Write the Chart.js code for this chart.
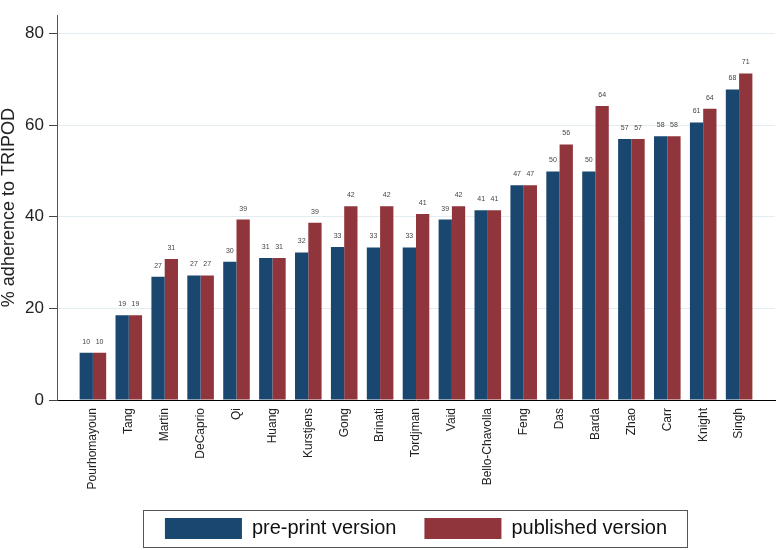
<!DOCTYPE html>
<html>
<head>
<meta charset="utf-8">
<script src="https://cdn.jsdelivr.net/npm/chart.js@4.4.1/dist/chart.umd.min.js"></script>
<style>
  body { margin: 0; background: #fff; }
  #wrap { width: 778px; height: 550px; }
</style>
</head>
<body>
<div id="wrap"><canvas id="myChart"></canvas></div>
<script>
// data
let studies = ['Pourhomayoun', 'Tang', 'Martin', 'DeCaprio', 'Qi', 'Huang', 'Kurstjens', 'Gong', 'Brinati',
  'Tordjman', 'Vaid', 'Bello-Chavolla', 'Feng', 'Das', 'Barda', 'Zhao', 'Carr', 'Knight', 'Singh'];
let prePrint = [10.3, 18.5, 26.9, 27.2, 30.2, 31.0, 32.2, 33.4, 33.3, 33.3, 39.4, 41.4, 46.9, 49.9, 49.9, 57.0, 57.6, 60.6, 67.8];
let published = [10.3, 18.5, 30.8, 27.2, 39.4, 31.0, 38.7, 42.3, 42.3, 40.6, 42.3, 41.4, 46.9, 55.8, 64.2, 57.0, 57.6, 63.6, 71.3];
let yTicks = [0, 20, 40, 60, 80];
let seriesNames = ['pre-print version', 'published version'];
let colorHex = ['#1a476f', '#90353b'];

Chart.defaults.font.family = '"Liberation Sans", Arial, sans-serif';

// numbers above the bars
const barValues = {
  id: 'barValues',
  afterDatasetsDraw(chart) {
    const ctx = chart.ctx;
    ctx.save();
    ctx.font = '7px "Liberation Sans", Arial, sans-serif';
    ctx.fillStyle = '#444';
    ctx.textAlign = 'center';
    ctx.textBaseline = 'alphabetic';
    chart.data.datasets.forEach((ds, i) => {
      chart.getDatasetMeta(i).data.forEach((bar, j) => {
        ctx.fillText(Math.round(ds.data[j].y), bar.x, bar.y - 9);
      });
    });
    ctx.restore();
  }
};

// frame round the legend
const legendFrame = {
  id: 'legendFrame',
  afterDraw(chart) {
    const boxes = chart.legend.legendHitBoxes;
    if (!boxes || !boxes.length) return;
    const first = boxes[0];
    const last = boxes[boxes.length - 1];
    const ctx = chart.ctx;
    const x0 = Math.round(first.left - 22) + 0.5;
    const x1 = Math.round(last.left + last.width + 20) + 0.5;
    const y0 = Math.round(first.top - 8) + 0.5;
    const y1 = Math.round(first.top + first.height + 8) + 0.5;
    ctx.save();
    ctx.strokeStyle = '#555';
    ctx.lineWidth = 1;
    ctx.strokeRect(x0, y0, x1 - x0, y1 - y0);
    ctx.restore();
  }
};

let ctx = document.getElementById('myChart').getContext('2d');

let myChart = new Chart(ctx, {
  type: 'bar',
  data: {
    datasets: [{
      label: seriesNames[0],
      data: prePrint.map((v, i) => ({ x: i, y: v })),
      backgroundColor: colorHex[0],
      borderWidth: 0
    }, {
      label: seriesNames[1],
      data: published.map((v, i) => ({ x: i, y: v })),
      backgroundColor: colorHex[1],
      borderWidth: 0
    }]
  },
  options: {
    responsive: true,
    maintainAspectRatio: false,
    animation: false,
    layout: { padding: { top: 3, right: 3, left: 0, bottom: 1 } },
    datasets: { bar: { categoryPercentage: 0.74, barPercentage: 1 } },
    scales: {
      x: {
        type: 'linear',
        offset: false,
        min: -1,
        max: 19,
        afterBuildTicks: (scale) => { scale.ticks = studies.map((s, i) => ({ value: i })); },
        afterFit: (scale) => { scale.height = 90; },
        grid: { display: false, drawTicks: false, offset: false },
        border: { display: true, color: '#000', width: 1 },
        ticks: {
          autoSkip: false,
          minRotation: 90,
          maxRotation: 90,
          padding: 8,
          color: '#222',
          font: { size: 12 },
          callback: (v) => studies[v] || ''
        }
      },
      y: {
        min: 0,
        max: 84,
        afterBuildTicks: (scale) => { scale.ticks = yTicks.map(v => ({ value: v })); },
        afterFit: (scale) => { scale.width = 57; },
        grid: { color: '#e3edf1', tickColor: '#444', tickLength: 8 },
        border: { display: true, color: '#555', width: 1 },
        ticks: { padding: 5, color: '#222', font: { size: 17 } },
        title: {
          display: true,
          text: '% adherence to TRIPOD',
          color: '#222',
          font: { size: 18, lineHeight: 1 },
          padding: 0
        }
      }
    },
    plugins: {
      tooltip: { enabled: false },
      legend: {
        position: 'bottom',
        fullSize: false,
        labels: {
          boxWidth: 77,
          boxHeight: 21,
          padding: 28,
          color: '#111',
          font: { size: 20 }
        }
      }
    }
  },
  plugins: [barValues, legendFrame]
});
</script>
</body>
</html>
